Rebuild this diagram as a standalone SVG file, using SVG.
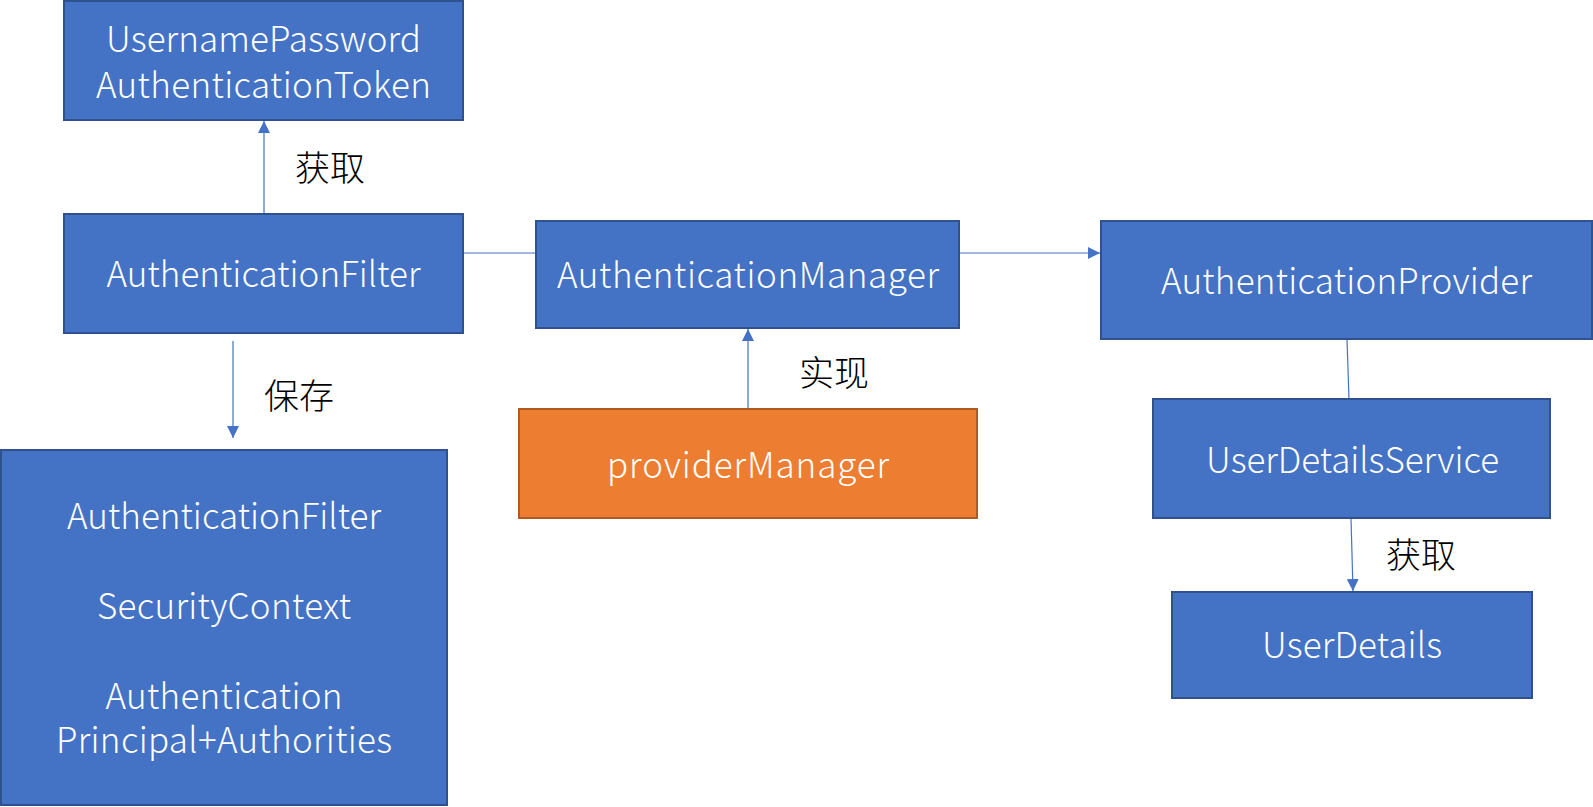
<svg xmlns="http://www.w3.org/2000/svg" width="1593" height="807" viewBox="0 0 1593 807">
<style>
.b{fill:#4472C4;stroke:#2F528F;stroke-width:2}
.o{fill:#ED7D31;stroke:#AE5A21;stroke-width:2}
.t{fill:#fff;font-family:"Noto Sans CJK SC","Noto Sans",sans-serif;font-weight:300;font-size:35px;text-anchor:middle}
.l{fill:#000;font-family:"Noto Sans CJK SC",sans-serif;font-weight:300;font-size:35px}
.c{stroke:#4472C4;stroke-width:1.2;fill:none}
</style>
<defs>
<marker id="ah" markerUnits="userSpaceOnUse" markerWidth="12" markerHeight="12" refX="12" refY="6" orient="auto">
<path d="M0,0 L12,6 L0,12 Z" fill="#4472C4"/>
</marker>
</defs>
<rect width="1593" height="807" fill="#fff"/>
<g id="connectors">
<line class="c" x1="264" y1="214" x2="264" y2="121" marker-end="url(#ah)"/>
<line class="c" x1="233" y1="341" x2="233" y2="438" marker-end="url(#ah)"/>
<line class="c" x1="463" y1="253" x2="536" y2="253"/>
<line class="c" x1="959" y1="253" x2="1100" y2="253" marker-end="url(#ah)"/>
<line class="c" x1="748" y1="409" x2="748" y2="329" marker-end="url(#ah)"/>
<line class="c" x1="1347" y1="339" x2="1349" y2="399"/>
<line class="c" x1="1351" y1="518" x2="1353" y2="591" marker-end="url(#ah)"/>
</g>
<g id="labels">
<text class="l" x="295" y="181">获取</text>
<text class="l" x="264" y="409">保存</text>
<text class="l" x="799" y="386">实现</text>
<text class="l" x="1386" y="568">获取</text>
</g>
<g id="token">
<rect class="b" x="64" y="1" width="399" height="119"/>
<text class="t" x="263.5" y="52" textLength="315">UsernamePassword</text>
<text class="t" x="263.5" y="98" textLength="335">AuthenticationToken</text>
</g>
<g id="filter">
<rect class="b" x="64" y="214" width="399" height="119"/>
<text class="t" x="263.5" y="287" textLength="314">AuthenticationFilter</text>
</g>
<g id="manager">
<rect class="b" x="536" y="221" width="423" height="107"/>
<text class="t" x="748" y="288" textLength="382">AuthenticationManager</text>
</g>
<g id="provider">
<rect class="b" x="1101" y="221" width="491" height="118"/>
<text class="t" x="1346.5" y="294" textLength="371">AuthenticationProvider</text>
</g>
<g id="providerManager">
<rect class="o" x="519" y="409" width="458" height="109"/>
<text class="t" x="748" y="478" textLength="282">providerManager</text>
</g>
<g id="context">
<rect class="b" x="1" y="450" width="446" height="355"/>
<text class="t" x="224" y="529" textLength="314">AuthenticationFilter</text>
<text class="t" x="224" y="619" textLength="254">SecurityContext</text>
<text class="t" x="224" y="709" textLength="237">Authentication</text>
<text class="t" x="224" y="753" textLength="336">Principal+Authorities</text>
</g>
<g id="userDetailsService">
<rect class="b" x="1153" y="399" width="397" height="119"/>
<text class="t" x="1352.5" y="473" textLength="293">UserDetailsService</text>
</g>
<g id="userDetails">
<rect class="b" x="1172" y="592" width="360" height="106"/>
<text class="t" x="1352" y="658" textLength="180">UserDetails</text>
</g>
</svg>
